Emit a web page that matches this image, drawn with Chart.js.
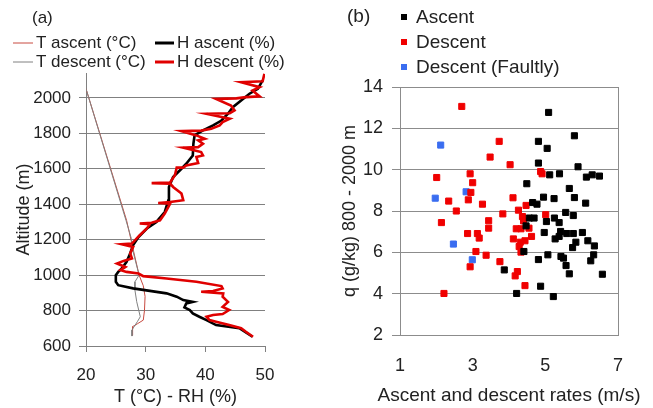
<!DOCTYPE html>
<html>
<head>
<meta charset="utf-8">
<script src="https://cdn.jsdelivr.net/npm/chart.js@4.4.0/dist/chart.umd.min.js"></script>
<style>
    body { margin: 0; background: #fff; }
    #wrapA { position: absolute; left: 0; top: 0; width: 330px; height: 408px; }
    #wrapB { position: absolute; left: 330px; top: 0; width: 323px; height: 408px; }
</style>
</head>
<body>
<div id="wrapA"><canvas id="profileChart" width="330" height="408"></canvas></div>
<div id="wrapB"><canvas id="scatterChart" width="323" height="408"></canvas></div>
<script>
const fontFam = '"Liberation Sans", Arial, sans-serif';

// (a) profiles - altitude (m) and value
const tAscAlt = [2051, 1309, 1131, 1000, 940, 880, 800, 746, 725, 709, 660];
const tAscVal = [20.0, 26.8, 28.0, 28.9, 29.6, 29.9, 29.8, 29.6, 28.6, 27.8, 27.8];
const tDesAlt = [2051, 1309, 1206, 1131, 1000, 962, 915, 850, 765, 737, 690, 656];
const tDesVal = [20.0, 26.7, 27.6, 27.9, 28.9, 28.2, 28.2, 28.5, 29.1, 28.6, 27.7, 27.7];
const hAscAlt = [652, 700, 718, 746, 765, 784, 803, 818, 840, 849, 859, 878, 897, 911, 925, 943, 962, 1000, 1018, 1037, 1075, 1122, 1169, 1215, 1263, 1300, 1356, 1422, 1497, 1553, 1600, 1628, 1675, 1741, 1788, 1816, 1844, 1872, 1910, 1947, 1985, 2023, 2051, 2098];
const hAscVal = [47.9, 45.7, 41.8, 40.2, 39.0, 37.9, 37.4, 36.5, 36.8, 37.9, 36.3, 35.2, 33.5, 30.7, 27.9, 25.4, 25.0, 25.0, 25.4, 26.0, 26.8, 27.4, 27.9, 28.8, 30.2, 31.8, 33.2, 33.8, 33.9, 34.6, 36.0, 36.8, 37.9, 38.0, 38.2, 39.6, 41.3, 42.7, 43.8, 44.6, 46.0, 47.4, 48.8, 49.6];
const hDesAlt = [652, 680, 700, 718, 737, 746, 765, 775, 780, 803, 821, 849, 878, 897, 906, 910, 925, 938, 962, 981, 994, 1009, 1018, 1028, 1046, 1065, 1080, 1094, 1122, 1159, 1174, 1178, 1225, 1263, 1287, 1291, 1295, 1309, 1347, 1403, 1407, 1412, 1422, 1460, 1497, 1516, 1519, 1522, 1563, 1606, 1606, 1619, 1632, 1666, 1675, 1694, 1719, 1722, 1741, 1760, 1769, 1788, 1812, 1815, 1826, 1844, 1863, 1882, 1910, 1913, 1929, 1957, 1994, 1997, 2004, 2008, 2041, 2060, 2088, 2093, 2135];
const hDesVal = [48.0, 46.8, 46.0, 44.0, 41.8, 40.7, 40.2, 41.3, 42.9, 44.0, 42.9, 43.8, 42.9, 43.0, 39.3, 41.3, 42.9, 42.7, 38.5, 33.5, 29.6, 28.8, 26.8, 25.8, 26.6, 25.2, 26.3, 27.7, 27.4, 27.9, 26.0, 27.7, 29.0, 30.2, 30.7, 29.0, 31.0, 32.4, 33.2, 34.1, 32.1, 34.1, 36.3, 36.0, 34.6, 34.1, 31.0, 34.1, 34.9, 35.2, 36.3, 36.8, 38.8, 38.5, 39.6, 39.3, 36.3, 38.8, 39.6, 38.8, 39.9, 38.5, 36.0, 39.3, 41.0, 42.4, 42.9, 44.1, 40.2, 44.1, 44.9, 44.3, 41.8, 45.2, 46.8, 49.1, 47.9, 49.1, 46.0, 49.6, 49.9];
const xTicksA = [20, 30, 40, 50];

// (b) rate (m/s) vs q (g/kg)
const ascRate = [5.09, 5.8, 4.81, 5.05, 4.81, 5.9, 5.12, 5.39, 6.13, 6.29, 6.49, 4.49, 5.66, 4.95, 5.24, 5.8, 4.65, 4.77, 6.11, 4.56, 4.69, 5.03, 5.25, 5.38, 5.56, 5.77, 4.97, 5.42, 5.59, 5.77, 6.02, 5.27, 5.38, 5.84, 6.17, 6.35, 5.75, 4.41, 4.81, 5.07, 5.43, 5.5, 6.33, 6.25, 5.57, 5.66, 6.57, 3.87, 4.87, 4.21, 5.22, 4.47];
const ascQ = [12.77, 11.64, 11.37, 11.03, 10.32, 10.14, 9.75, 9.8, 9.64, 9.75, 9.69, 9.32, 9.09, 8.67, 8.6, 8.65, 8.41, 8.33, 8.38, 7.66, 7.66, 7.49, 7.66, 7.44, 7.93, 7.78, 6.96, 7.01, 6.91, 6.91, 6.96, 6.65, 6.77, 6.49, 6.56, 6.31, 6.23, 6.04, 5.65, 5.88, 5.8, 5.72, 5.88, 5.59, 5.36, 4.96, 4.94, 5.15, 4.36, 4.01, 3.86, 7.28];
const desRate = [2.70, 3.73, 3.48, 4.03, 2.01, 2.93, 3.0, 2.95, 2.34, 2.88, 4.11, 3.27, 2.55, 3.83, 2.14, 3.44, 3.44, 2.86, 3.13, 3.18, 3.09, 3.37, 3.75, 2.93, 2.21, 4.87, 4.91, 4.47, 4.26, 4.37, 4.4, 5.01, 4.2, 4.33, 4.55, 4.12, 4.31, 4.62, 4.44, 4.28, 4.33, 4.23, 4.17, 4.44];
const desQ = [13.06, 11.37, 10.61, 10.24, 9.62, 9.8, 9.37, 8.9, 8.48, 8.54, 8.64, 8.33, 8.0, 7.86, 7.44, 7.53, 7.17, 6.91, 6.91, 6.69, 6.04, 5.86, 5.55, 5.3, 4.01, 9.91, 9.8, 8.27, 8.04, 7.73, 7.52, 7.82, 7.14, 7.14, 7.17, 6.65, 6.49, 6.77, 6.56, 6.28, 6.01, 5.07, 4.86, 4.39];
const faultRate = [2.12, 2.82, 1.97, 2.47, 2.99];
const faultQ = [11.19, 8.93, 8.62, 6.40, 5.64];

function pairs(xs, ys) {
    return xs.map((v, i) => ({ x: v, y: ys[i] }));
}

// legend + panel letter drawn by hand
const legendA = {
    id: 'legendA',
    afterDraw(chart) {
        const ctx = chart.ctx;
        ctx.save();
        ctx.font = '17px ' + fontFam;
        ctx.fillStyle = '#222';
        ctx.textBaseline = 'middle';
        ctx.fillText('(a)', 32, 18);
        const items = [
            { x: 13, y: 43, w: 20, c: '#c84a40', lw: 1, t: 'T ascent (°C)' },
            { x: 13, y: 62, w: 20, c: '#808080', lw: 1, t: 'T descent (°C)' },
            { x: 155, y: 43, w: 19, c: '#000000', lw: 3, t: 'H ascent (%)' },
            { x: 155, y: 62, w: 19, c: '#e00000', lw: 3, t: 'H descent (%)' }
        ];
        items.forEach(it => {
            ctx.strokeStyle = it.c;
            ctx.lineWidth = it.lw;
            ctx.beginPath();
            ctx.moveTo(it.x, it.y);
            ctx.lineTo(it.x + it.w, it.y);
            ctx.stroke();
            ctx.fillText(it.t, it.x + it.w + 3, it.y);
        });
        ctx.restore();
    }
};

const legendB = {
    id: 'legendB',
    beforeDatasetsDraw(chart) {
        const a = chart.chartArea;
        const ctx = chart.ctx;
        ctx.save();
        ctx.strokeStyle = '#8c8c8c';
        ctx.lineWidth = 1;
        ctx.strokeRect(a.left + 0.5, a.top + 0.5, a.right - a.left, a.bottom - a.top);
        ctx.restore();
    },
    afterDraw(chart) {
        const ctx = chart.ctx;
        const a = chart.chartArea;
        ctx.save();
        ctx.font = '19px ' + fontFam;
        ctx.fillStyle = '#222';
        ctx.textBaseline = 'middle';
        ctx.fillText('(b)', 17, 17);
        const items = [
            { y: 17, c: '#000000', t: 'Ascent' },
            { y: 42, c: '#f00000', t: 'Descent' },
            { y: 67, c: '#3a6df0', t: 'Descent (Faultly)' }
        ];
        items.forEach(it => {
            ctx.fillStyle = it.c;
            ctx.fillRect(71, it.y - 3, 6, 6);
            ctx.fillStyle = '#222';
            ctx.fillText(it.t, 86, it.y + 1);
        });
        // x title wider than the plot, so not squeezed by the scale
        ctx.textAlign = 'center';
        ctx.fillText('Ascent and descent rates (m/s)', (a.left + a.right) / 2, 396);
        ctx.restore();
    }
};

function lineSet(label, xs, ys, color, width) {
    return {
        label: label,
        data: pairs(xs, ys),
        showLine: true,
        borderColor: color,
        borderWidth: width,
        pointRadius: 0,
        fill: false,
        tension: 0
    };
}

const plainNum = v => String(v);

const configProfile = {
    type: 'scatter',
    data: {
        datasets: [
            lineSet('H descent (%)', hDesVal, hDesAlt, '#e00000', 2.6),
            lineSet('H ascent (%)', hAscVal, hAscAlt, '#000000', 2.6),
            lineSet('T descent (°C)', tDesVal, tDesAlt, '#808080', 1),
            lineSet('T ascent (°C)', tAscVal, tAscAlt, '#c84a40', 1)
        ]
    },
    options: {
        responsive: false,
        animation: false,
        layout: { padding: { left: 0, right: 65, top: 73, bottom: 0 } },
        plugins: { legend: { display: false }, tooltip: { enabled: false } },
        scales: {
            x: {
                type: 'linear',
                min: 20,
                max: 50,
                afterBuildTicks: s => { s.ticks = xTicksA.map(v => ({ value: v })); },
                afterFit: s => { s.height = 62; },
                grid: { drawOnChartArea: false, drawTicks: true, tickLength: 6, color: '#808080' },
                border: { color: '#808080' },
                ticks: { color: '#222', padding: 13, callback: plainNum, font: { family: fontFam, size: 17 } },
                title: {
                    display: true,
                    text: 'T (°C) - RH (%)',
                    color: '#222',
                    padding: { top: 0, bottom: 0 },
                    font: { family: fontFam, size: 18 }
                }
            },
            y: {
                type: 'linear',
                min: 600,
                max: 2140,
                afterBuildTicks: s => { s.ticks = s.ticks.filter(t => t.value % 200 === 0); },
                afterFit: s => { s.width = 86; },
                grid: { color: '#808080', tickLength: 7 },
                border: { color: '#808080' },
                ticks: { stepSize: 200, color: '#222', padding: 8, callback: plainNum, font: { family: fontFam, size: 17 } },
                title: {
                    display: true,
                    text: 'Altitude (m)',
                    color: '#222',
                    padding: { top: 13, bottom: 0 },
                    font: { family: fontFam, size: 18 }
                }
            }
        }
    },
    plugins: [legendA]
};

function dotSet(label, xs, ys, color) {
    return {
        label: label,
        data: pairs(xs, ys),
        pointStyle: 'rect',
        pointRadius: 4.3,
        backgroundColor: color,
        borderColor: color,
        borderWidth: 1
    };
}

const configScatter = {
    type: 'scatter',
    data: {
        datasets: [
            dotSet('Ascent', ascRate, ascQ, '#000000'),
            dotSet('Descent', desRate, desQ, '#f00000'),
            dotSet('Descent (Faultly)', faultRate, faultQ, '#3a6df0')
        ]
    },
    options: {
        responsive: false,
        animation: false,
        layout: { padding: { left: 0, right: 35, top: 87, bottom: 0 } },
        plugins: { legend: { display: false }, tooltip: { enabled: false } },
        scales: {
            x: {
                type: 'linear',
                min: 1,
                max: 7,
                afterFit: s => { s.height = 73; },
                grid: { display: true, drawOnChartArea: false, drawTicks: false },
                border: { color: '#8c8c8c' },
                ticks: { stepSize: 2, color: '#222', padding: 20, callback: plainNum, font: { family: fontFam, size: 18 } },
                title: { display: false }
            },
            y: {
                type: 'linear',
                min: 2,
                max: 14,
                afterFit: s => { s.width = 70; },
                grid: { color: '#8c8c8c', tickLength: 8 },
                border: { color: '#8c8c8c' },
                ticks: { stepSize: 2, color: '#222', padding: 9, callback: plainNum, font: { family: fontFam, size: 18 } },
                title: {
                    display: true,
                    text: 'q (g/kg) 800 - 2000 m',
                    color: '#222',
                    padding: { top: 9, bottom: 0 },
                    font: { family: fontFam, size: 18 }
                }
            }
        }
    },
    plugins: [legendB]
};

var profileChart = new Chart(document.getElementById('profileChart'), configProfile);
var scatterChart = new Chart(document.getElementById('scatterChart'), configScatter);
</script>
</body>
</html>
